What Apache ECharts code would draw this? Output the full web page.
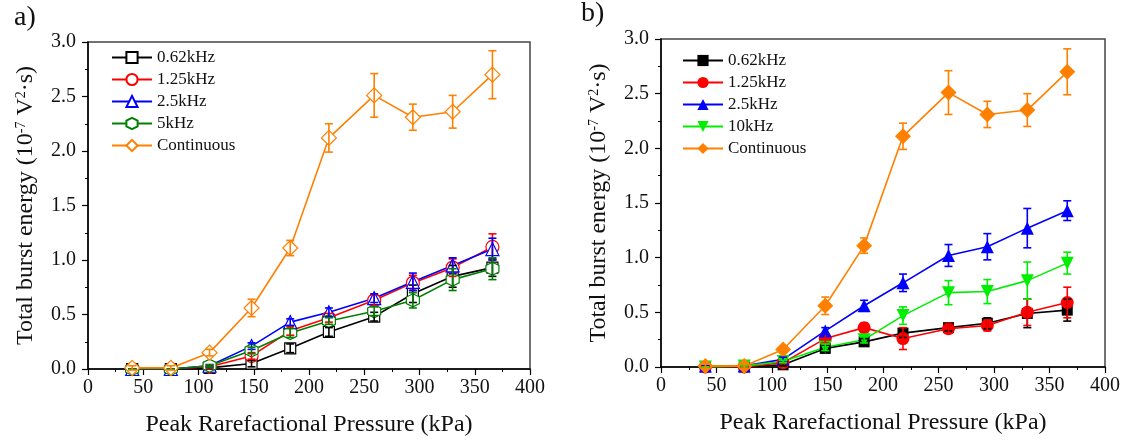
<!DOCTYPE html>
<html>
<head>
<meta charset="utf-8">
<script src="https://cdn.jsdelivr.net/npm/echarts@6/dist/echarts.min.js"></script>
<style>
  html, body { margin: 0; padding: 0; background: #fff; }
  #main { width: 1127px; height: 444px; }
</style>
</head>
<body>
<div id="main"></div>
<script>
// pressure (kPa)
const pressure = [40, 75, 110, 148, 183, 218, 259, 294, 330, 366];

// panel a) — values and error (±)
const aNames = ['0.62kHz', '1.25kHz', '2.5kHz', '5kHz', 'Continuous'];
const aVals = [
    [0.0, 0.0, 0.01, 0.05, 0.19, 0.34, 0.48, 0.69, 0.85, 0.93],
    [0.0, 0.0, 0.02, 0.12, 0.35, 0.47, 0.63, 0.79, 0.93, 1.12],
    [0.0, 0.0, 0.03, 0.21, 0.43, 0.52, 0.65, 0.80, 0.95, 1.10],
    [0.0, 0.0, 0.03, 0.17, 0.33, 0.44, 0.53, 0.63, 0.82, 0.92],
    [0.01, 0.01, 0.15, 0.56, 1.11, 2.12, 2.51, 2.31, 2.36, 2.70]
];
const aErr = [
    [0, 0, 0.01, 0.03, 0.04, 0.04, 0.04, 0.08, 0.10, 0.08],
    [0, 0, 0.01, 0.03, 0.04, 0.04, 0.05, 0.07, 0.08, 0.12],
    [0, 0, 0.01, 0.03, 0.03, 0.04, 0.04, 0.08, 0.07, 0.10],
    [0, 0, 0.01, 0.03, 0.04, 0.03, 0.04, 0.07, 0.10, 0.10],
    [0.02, 0.02, 0.03, 0.08, 0.07, 0.13, 0.20, 0.12, 0.15, 0.22]
];

// panel b)
const bNames = ['0.62kHz', '1.25kHz', '2.5kHz', '10kHz', 'Continuous'];
const bVals = [
    [0.0, 0.0, 0.02, 0.17, 0.23, 0.31, 0.36, 0.40, 0.49, 0.52],
    [0.0, 0.0, 0.04, 0.26, 0.36, 0.26, 0.35, 0.38, 0.50, 0.59],
    [0.01, 0.01, 0.07, 0.33, 0.56, 0.77, 1.02, 1.10, 1.27, 1.43],
    [0.0, 0.01, 0.05, 0.18, 0.25, 0.47, 0.68, 0.69, 0.79, 0.95],
    [0.01, 0.01, 0.16, 0.56, 1.11, 2.11, 2.51, 2.31, 2.35, 2.70]
];
const bErr = [
    [0, 0, 0.01, 0.03, 0.03, 0.04, 0.03, 0.05, 0.13, 0.10],
    [0, 0, 0.01, 0.04, 0.04, 0.10, 0.04, 0.05, 0.12, 0.14],
    [0, 0, 0.02, 0.03, 0.05, 0.08, 0.10, 0.12, 0.18, 0.09],
    [0, 0, 0.01, 0.03, 0.03, 0.08, 0.11, 0.11, 0.17, 0.10],
    [0.02, 0.02, 0.03, 0.08, 0.07, 0.12, 0.20, 0.12, 0.15, 0.21]
];

const aColors = ['#000000', '#ff0000', '#0000ff', '#008000', '#ff8000'];
const bColors = ['#000000', '#ff0000', '#0000ff', '#00ee00', '#ff8000'];
const hexagon = 'path://M0,-1L0.866,-0.5L0.866,0.5L0,1L-0.866,0.5L-0.866,-0.5Z';
const aSymbols = ['rect', 'circle', 'triangle', hexagon, 'diamond'];
const aSizes = [11, 13, 13, 13, 15];
const bSymbols = ['rect', 'circle', 'triangle', 'path://M-1,-0.866L1,-0.866L0,0.866Z', 'diamond'];
const bSizes = [11, 13, 13, 13, 16];

const FONT = '"Liberation Serif", "Times New Roman", "DejaVu Serif", serif';

function errRender(color) {
    return function (params, api) {
        const x = api.value(0);
        const top = api.coord([x, api.value(2)]);
        const bot = api.coord([x, api.value(1)]);
        const w = 4;
        const st = { stroke: color, lineWidth: 1.6, fill: null };
        return {
            type: 'group',
            children: [
                { type: 'line', shape: { x1: top[0], y1: top[1], x2: bot[0], y2: bot[1] }, style: st },
                { type: 'line', shape: { x1: top[0] - w, y1: top[1], x2: top[0] + w, y2: top[1] }, style: st },
                { type: 'line', shape: { x1: bot[0] - w, y1: bot[1], x2: bot[0] + w, y2: bot[1] }, style: st }
            ]
        };
    };
}

function makeSeries(idx, prefix, names, vals, errs, colors, symbols, sizes, hollow) {
    let out = [];
    names.forEach((n, i) => {
        out.push({
            name: prefix + n,
            type: 'line',
            xAxisIndex: idx,
            yAxisIndex: idx,
            data: pressure.map((p, k) => [p, vals[i][k]]),
            symbol: symbols[i],
            symbolSize: sizes[i],
            lineStyle: { color: colors[i], width: 1.6 },
            itemStyle: hollow
                ? { color: '#fff', borderColor: colors[i], borderWidth: 1.2 }
                : { color: colors[i], borderWidth: 0 },
            z: 3
        });
        out.push({
            type: 'custom',
            xAxisIndex: idx,
            yAxisIndex: idx,
            renderItem: errRender(colors[i]),
            encode: { x: 0, y: [1, 2] },
            data: pressure.map((p, k) => [p, vals[i][k] - errs[i][k], vals[i][k] + errs[i][k]]),
            z: 4,
            silent: true
        });
    });
    return out;
}

function xAxis(gi) {
    return {
        gridIndex: gi,
        type: 'value',
        min: 0, max: 400, interval: 50,
        name: 'Peak Rarefactional Pressure (kPa)',
        nameLocation: 'middle',
        nameGap: 44,
        nameTextStyle: { fontFamily: FONT, fontSize: 24, color: '#111' },
        axisLine: { lineStyle: { color: '#000', width: 1.5 } },
        axisTick: { length: 6, lineStyle: { color: '#000', width: 1.2 } },
        minorTick: { show: true, splitNumber: 2, length: 3, lineStyle: { color: '#000', width: 1 } },
        axisLabel: { fontFamily: FONT, fontSize: 20, color: '#111', margin: 9 },
        splitLine: { show: false }
    };
}

function yAxis(gi) {
    return {
        gridIndex: gi,
        type: 'value',
        min: 0, max: 3, interval: 0.5,
        name: '{a|Total burst energy (10}{s|-7}{a| V}{s|2}{a|·s)}',
        nameLocation: 'middle',
        nameGap: 50,
        nameRotate: 90,
        nameTextStyle: {
            rich: {
                a: { fontFamily: FONT, fontSize: 24, color: '#111' },
                s: { fontFamily: FONT, fontSize: 14, color: '#111', verticalAlign: 'top' }
            }
        },
        axisLine: { lineStyle: { color: '#000', width: 1.5 } },
        axisTick: { length: 6, lineStyle: { color: '#000', width: 1.2 } },
        minorTick: { show: true, splitNumber: 2, length: 3, lineStyle: { color: '#000', width: 1 } },
        axisLabel: {
            fontFamily: FONT, fontSize: 20, color: '#111', margin: 12,
            formatter: v => v.toFixed(1)
        },
        splitLine: { show: false }
    };
}

function legend(left, top, prefix, names) {
    return {
        orient: 'vertical',
        left: left,
        top: top,
        itemWidth: 40,
        itemHeight: 14,
        itemGap: 5,
        data: names.map(n => prefix + n),
        formatter: n => n.replace(prefix, ''),
        textStyle: { fontFamily: FONT, fontSize: 17, color: '#111', lineHeight: 17 }
    };
}

let myChart = echarts.init(document.getElementById('main'));
let option = {
    animation: false,
    backgroundColor: '#fff',
    title: [
        { text: 'a)', left: 14, top: 4, padding: 0, textStyle: { fontFamily: FONT, fontSize: 28, fontWeight: 'normal', color: '#111' } },
        { text: 'b)', left: 581, top: 0, padding: 0, textStyle: { fontFamily: FONT, fontSize: 28, fontWeight: 'normal', color: '#111' } }
    ],
    grid: [
        { left: 88, top: 42, width: 442, height: 327, show: true, borderColor: '#444', borderWidth: 1.5, backgroundColor: 'transparent' },
        { left: 661, top: 39, width: 444, height: 328, show: true, borderColor: '#444', borderWidth: 1.5, backgroundColor: 'transparent' }
    ],
    xAxis: [xAxis(0), xAxis(1)],
    yAxis: [yAxis(0), yAxis(1)],
    legend: [
        legend(106, 44, 'a-', aNames),
        legend(677, 47, 'b-', bNames)
    ],
    series: [].concat(
        makeSeries(0, 'a-', aNames, aVals, aErr, aColors, aSymbols, aSizes, true),
        makeSeries(1, 'b-', bNames, bVals, bErr, bColors, bSymbols, bSizes, false)
    )
};
option && myChart.setOption(option);
</script>
</body>
</html>
